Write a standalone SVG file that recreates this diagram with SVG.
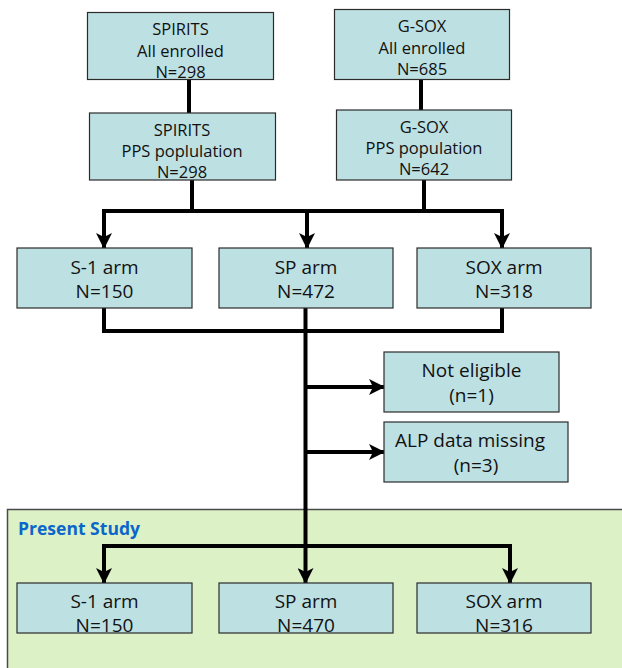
<svg xmlns="http://www.w3.org/2000/svg" width="622" height="668" viewBox="0 0 622 668">
<style>
.box{fill:#BDE0E3;stroke:#2b2b2b;stroke-width:1.2}
.t{font-family:"Open Sans","Noto Sans","DejaVu Sans",sans-serif;fill:#111;text-anchor:middle}
.s{font-size:16.5px}
.m{font-size:19px}
.ln{fill:none;stroke:#000;stroke-width:4}
.ar{fill:none;stroke:#000;stroke-width:4;marker-end:url(#ah)}
</style>
<defs>
<marker id="ah" markerUnits="userSpaceOnUse" markerWidth="16" markerHeight="16" refX="15" refY="8" orient="auto" viewBox="0 0 16 16">
<path d="M0,0 L16,8 L0,16 L4,8 z" fill="#000"/>
</marker>
</defs>
<rect x="7.5" y="509.5" width="620" height="165" fill="#DCF1C5" stroke="#4a4a4a" stroke-width="1.5"/>
<text x="18" y="535" font-family="'Open Sans','Noto Sans',sans-serif" font-size="17" font-weight="bold" fill="#0B66CC" textLength="122" lengthAdjust="spacingAndGlyphs">Present Study</text>
<g id="connectors">
<line class="ln" x1="189" y1="80" x2="189" y2="113"/>
<line class="ln" x1="421" y1="80" x2="421" y2="110"/>
<line class="ln" x1="192" y1="180" x2="192" y2="211"/>
<line class="ln" x1="424" y1="180" x2="424" y2="211"/>
<polyline class="ln" points="104,247 104,211 502,211 502,247"/>
<line class="ar" x1="104" y1="211" x2="104" y2="248"/>
<line class="ar" x1="307" y1="211" x2="307" y2="248"/>
<line class="ar" x1="502" y1="211" x2="502" y2="248"/>
<polyline class="ln" points="104,308 104,331 502,331 502,308"/>
<line class="ln" x1="305.5" y1="308" x2="305.5" y2="546"/>
<line class="ar" x1="305.5" y1="387" x2="384" y2="387"/>
<line class="ar" x1="305.5" y1="452" x2="384" y2="452"/>
<polyline class="ln" points="104,582 104,546 510,546 510,582"/>
<line class="ar" x1="104" y1="546" x2="104" y2="583"/>
<line class="ar" x1="305.5" y1="546" x2="305.5" y2="583"/>
<line class="ar" x1="510" y1="546" x2="510" y2="583"/>
</g>
<g id="spirits-all">
<rect class="box" x="87.5" y="12.5" width="186" height="67"/>
<text class="t s" x="180.5" y="35">SPIRITS</text>
<text class="t s" x="180.5" y="57">All enrolled</text>
<text class="t s" x="180.5" y="78">N=298</text>
</g>
<g id="gsox-all">
<rect class="box" x="334.5" y="9.5" width="175" height="70"/>
<text class="t s" x="422" y="32">G-SOX</text>
<text class="t s" x="422" y="54">All enrolled</text>
<text class="t s" x="422" y="75">N=685</text>
</g>
<g id="spirits-pps">
<rect class="box" x="89.5" y="113" width="186" height="67"/>
<text class="t s" x="182" y="136">SPIRITS</text>
<text class="t s" x="182" y="157">PPS poplulation</text>
<text class="t s" x="182" y="178">N=298</text>
</g>
<g id="gsox-pps">
<rect class="box" x="336.5" y="110" width="175" height="70"/>
<text class="t s" x="424" y="133">G-SOX</text>
<text class="t s" x="424" y="154">PPS population</text>
<text class="t s" x="424" y="175">N=642</text>
</g>
<g id="s1-arm">
<rect class="box" x="17" y="248" width="175" height="60"/>
<text class="t m" x="104.5" y="274">S-1 arm</text>
<text class="t m" x="104.5" y="298">N=150</text>
</g>
<g id="sp-arm">
<rect class="box" x="219" y="248" width="174" height="60"/>
<text class="t m" x="306" y="274">SP arm</text>
<text class="t m" x="306" y="298">N=472</text>
</g>
<g id="sox-arm">
<rect class="box" x="417" y="248" width="174" height="60"/>
<text class="t m" x="504" y="274">SOX arm</text>
<text class="t m" x="504" y="298">N=318</text>
</g>
<g id="not-eligible">
<rect class="box" x="384" y="352" width="175" height="60"/>
<text class="t m" x="471.5" y="377">Not eligible</text>
<text class="t m" x="471.5" y="402">(n=1)</text>
</g>
<g id="alp-missing">
<rect class="box" x="384" y="422" width="184" height="60"/>
<text class="t m" x="470" y="447">ALP data missing</text>
<text class="t m" x="476" y="472">(n=3)</text>
</g>
<g id="s1-arm-2">
<rect class="box" x="17" y="583" width="175" height="50"/>
<text class="t m" x="104.5" y="608">S-1 arm</text>
<text class="t m" x="104.5" y="632">N=150</text>
</g>
<g id="sp-arm-2">
<rect class="box" x="219" y="583" width="174" height="50"/>
<text class="t m" x="306" y="608">SP arm</text>
<text class="t m" x="306" y="632">N=470</text>
</g>
<g id="sox-arm-2">
<rect class="box" x="417" y="583" width="174" height="50"/>
<text class="t m" x="504" y="608">SOX arm</text>
<text class="t m" x="504" y="632">N=316</text>
</g>
</svg>
